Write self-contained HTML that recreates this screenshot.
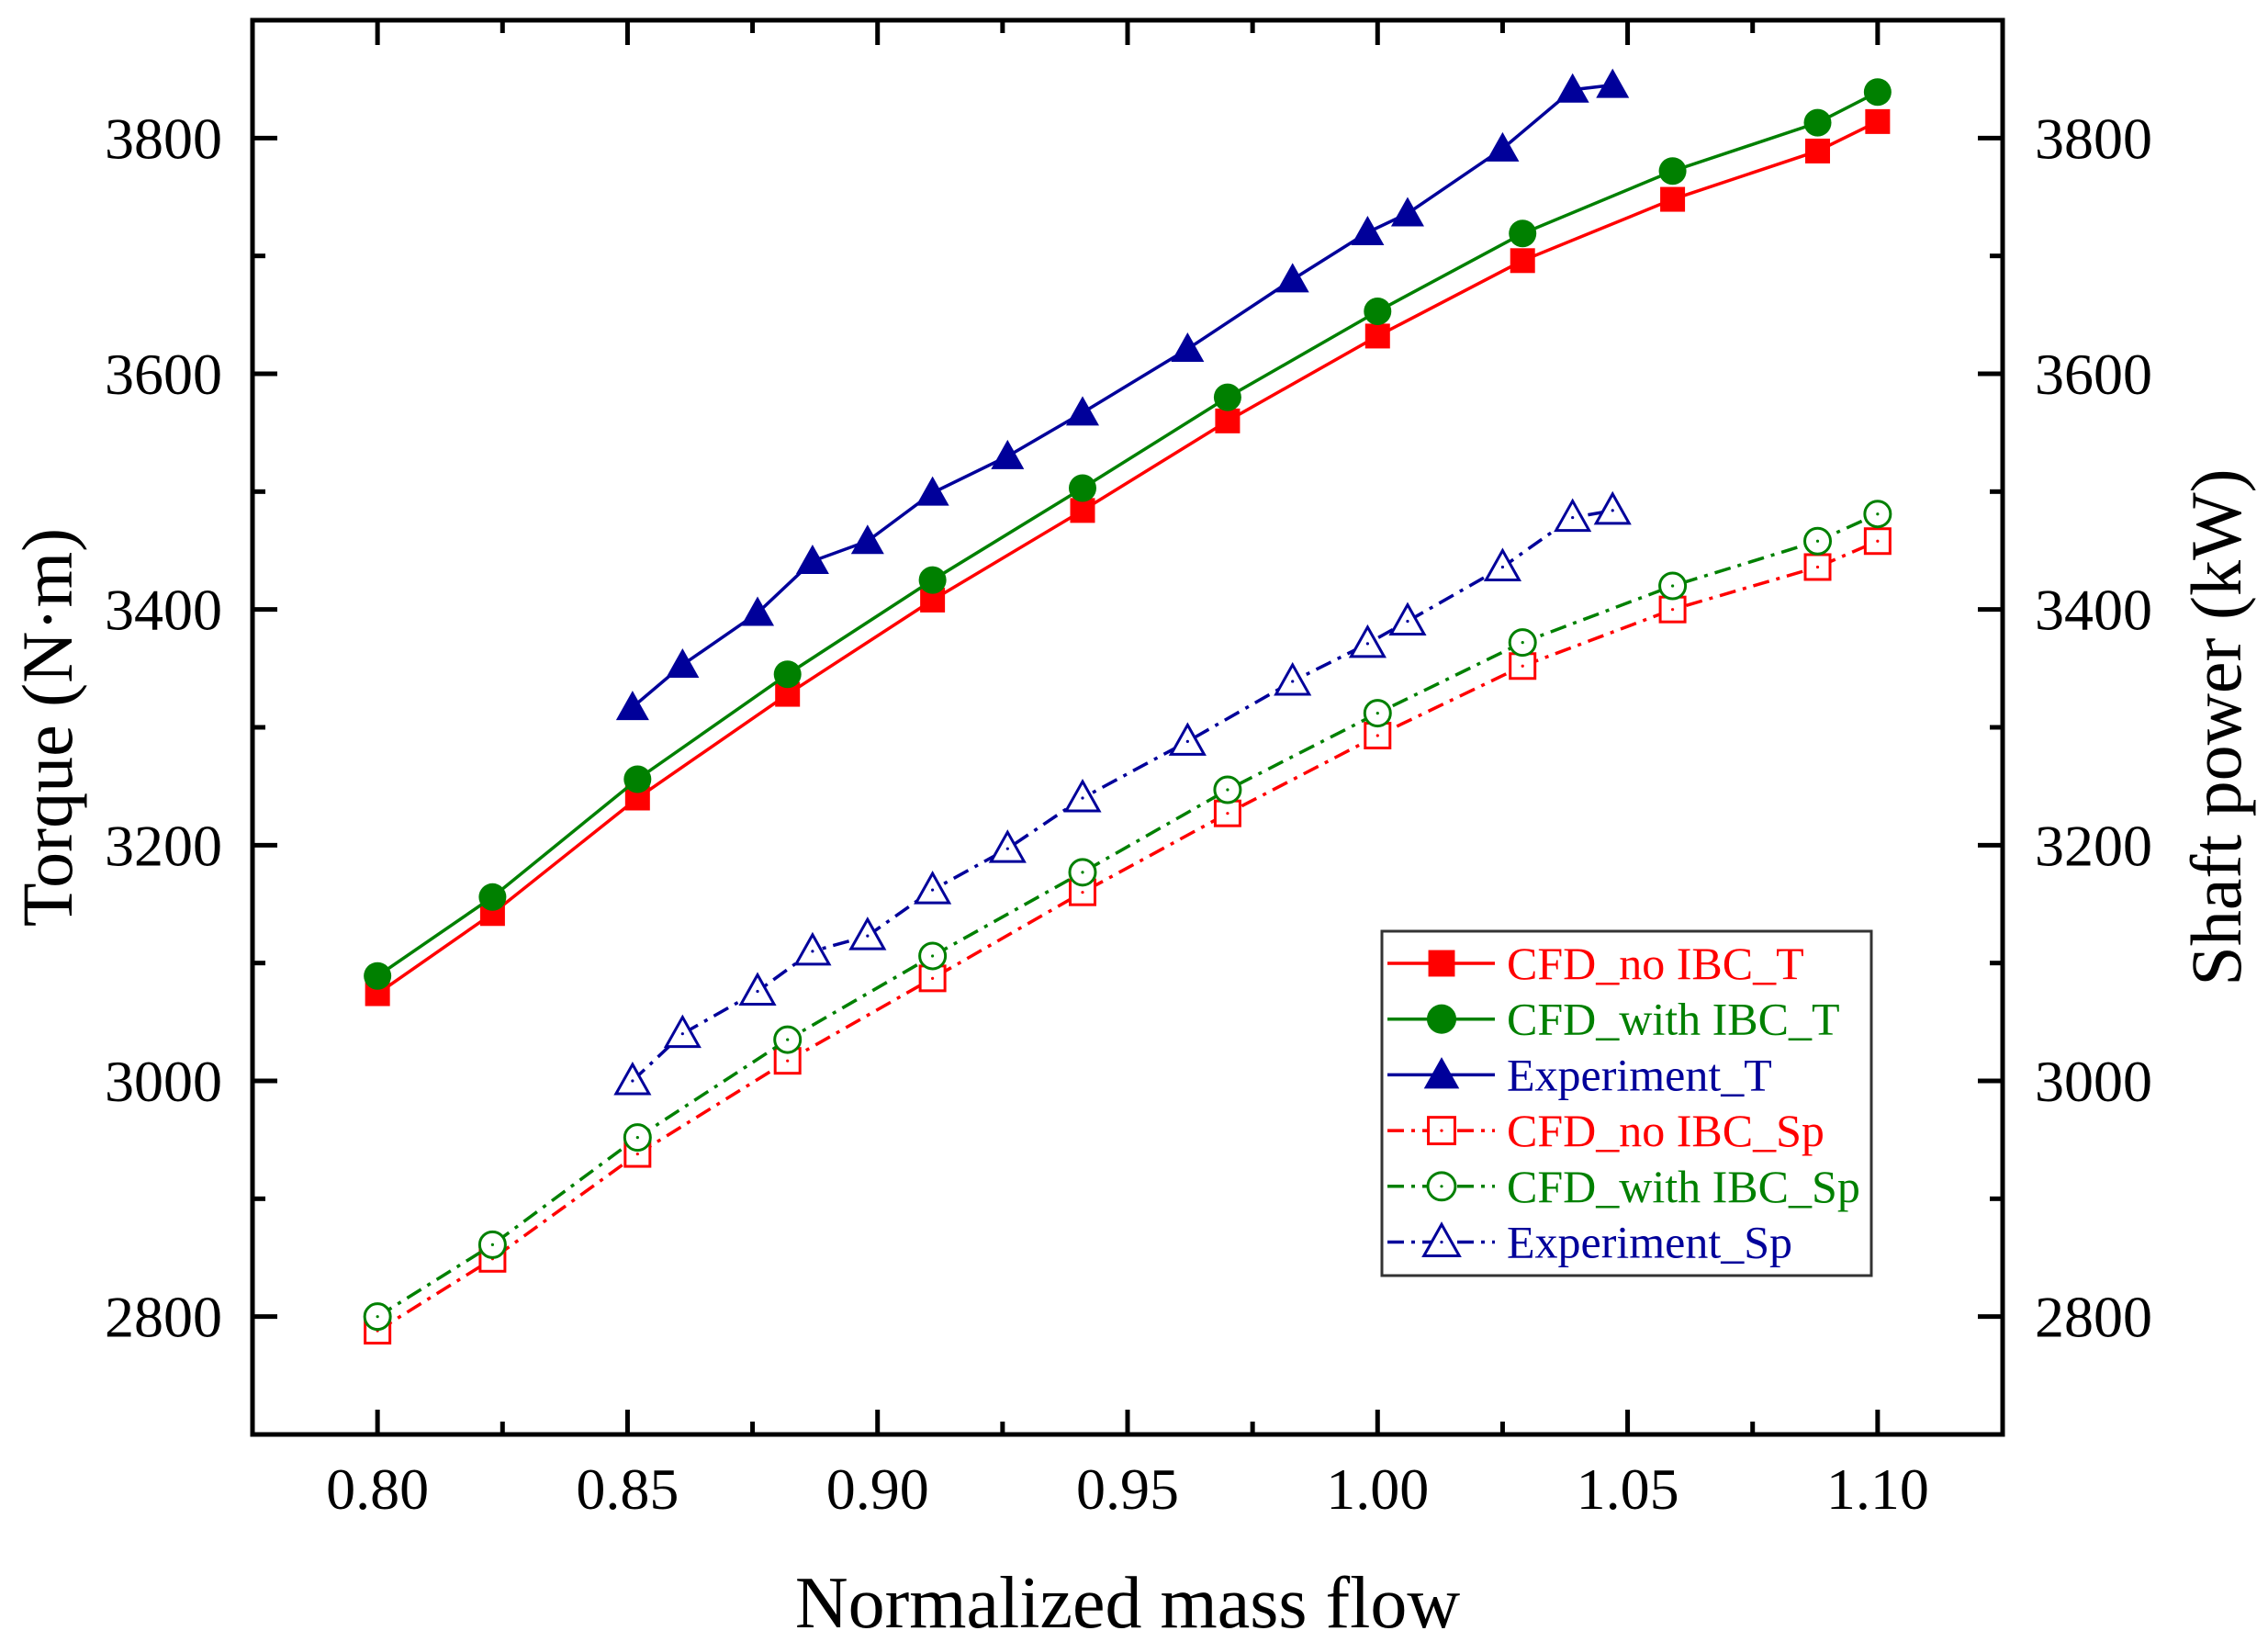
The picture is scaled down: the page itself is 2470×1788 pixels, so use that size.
<!DOCTYPE html>
<html><head><meta charset="utf-8"><style>
html,body{margin:0;padding:0;background:#fff;}
svg{display:block;font-family:"Liberation Serif",serif;}
</style></head><body>
<svg id="chart" width="2470" height="1788" viewBox="0 0 2470 1788" xmlns="http://www.w3.org/2000/svg"></svg>
<script>
const xCfd=[0.80,0.823,0.852,0.882,0.911,0.941,0.970,1.00,1.029,1.059,1.088,1.10];
const xExp=[0.851,0.861,0.876,0.887,0.898,0.911,0.926,0.941,0.962,0.983,0.998,1.006,1.025,1.039,1.047];
const noIbcT=[3074,3142,3240,3328,3408,3484,3560,3632,3696,3748,3789,3814];
const withIbcT=[3089,3156,3256,3345,3425,3503,3580,3653,3719,3772,3813,3839];
const expT=[3317,3353,3397,3441,3458,3499,3530,3567,3621,3680,3720,3736,3791,3841,3845];
const noIbcSp=[2788,2849,2938,3017,3087,3160,3227,3293,3352,3400,3436,3458];
const withIbcSp=[2800,2861,2952,3035,3106,3177,3247,3312,3372,3420,3458,3481];
const expSp=[3000,3040,3076,3110,3123,3162,3197,3240,3288,3339,3371,3390,3436,3478,3484];
const xTicks=["0.80","0.85","0.90","0.95","1.00","1.05","1.10"];
const yTicks=["2800","3000","3200","3400","3600","3800"];

const L=275,R=2181,T=22,B=1562,X0=0.775,X1=1.125,Y0=2700,Y1=3900;
const sx=v=>L+(v-X0)/(X1-X0)*(R-L);
const sy=v=>B-(v-Y0)/(Y1-Y0)*(B-T);
const svg=document.getElementById('chart');
const NS="http://www.w3.org/2000/svg";
function el(tag,attrs,parent){const e=document.createElementNS(NS,tag);for(const k in attrs)e.setAttribute(k,attrs[k]);(parent||svg).appendChild(e);return e;}

const tickG=el('g',{stroke:'#000','stroke-width':5});


for(let i=0;i<=14;i++){
  const v=0.775+i*0.025;
  const x=sx(v); const major=(i%2===1);
  const len=major?27:14;
  el('line',{x1:x,y1:B,x2:x,y2:B-len},tickG);
  el('line',{x1:x,y1:T,x2:x,y2:T+len},tickG);
}
for(let v=2700;v<=3900;v+=100){
  const y=sy(v); const major=v%200===0; const len=major?27:14;
  el('line',{x1:L,y1:y,x2:L+len,y2:y},tickG);
  el('line',{x1:R,y1:y,x2:R-len,y2:y},tickG);
}
const frame=el('rect',{x:L,y:T,width:R-L,height:B-T,fill:'none',stroke:'#000','stroke-width':5});



xTicks.forEach(t=>{
  const tx=el('text',{x:sx(+t),y:1643,'font-size':64,'text-anchor':'middle'});tx.textContent=t;
  
  
});
yTicks.forEach(t=>{
  const a=el('text',{x:242,y:sy(+t)+22,'font-size':64,'text-anchor':'end'});a.textContent=t;
  
  
  const b=el('text',{x:2216,y:sy(+t)+22,'font-size':64,'text-anchor':'start'});b.textContent=t;
  
  
});
const xt=el('text',{x:1228,y:1772,'font-size':80,'text-anchor':'middle'});xt.textContent='Normalized mass flow';


const yl=el('text',{x:0,y:0,'font-size':78,'text-anchor':'middle',transform:'translate(78,792) rotate(-90)'});yl.textContent='Torque (N·m)';


const yr=el('text',{x:0,y:0,'font-size':78,'text-anchor':'middle',transform:'translate(2440,792) rotate(-90)'});yr.textContent='Shaft power (kW)';



function marker(g,shape,x,y,color,filled,k){
  k=k||1;
  const f=filled?color:'#fff';
  if(shape==='sq') el('rect',{x:x-13.5*k,y:y-13.5*k,width:27*k,height:27*k,fill:f,stroke:color,'stroke-width':filled?0:3},g);
  else if(shape==='ci') el('circle',{cx:x,cy:y,r:(filled?15:14)*k,fill:f,stroke:color,'stroke-width':filled?0:3},g);
  else el('polygon',{points:`${x},${y-18*k} ${x+18*k},${y+14*k} ${x-18*k},${y+14*k}`,fill:f,stroke:color,'stroke-width':filled?0:3},g);
  if(!filled) el('circle',{cx:x,cy:y,r:1.6,fill:color},g);
}
const dash='18 8 4 8';
const series=[
 {name:'series-cfd-no-ibc-t',xs:xCfd,ys:noIbcT,c:'#ff0000',s:'sq',f:true,d:null,label:'CFD_no IBC_T'},
 {name:'series-cfd-with-ibc-t',xs:xCfd,ys:withIbcT,c:'#008000',s:'ci',f:true,d:null,label:'CFD_with IBC_T'},
 {name:'series-experiment-t',xs:xExp,ys:expT,c:'#00009a',s:'tr',f:true,d:null,label:'Experiment_T'},
 {name:'series-cfd-no-ibc-sp',xs:xCfd,ys:noIbcSp,c:'#ff0000',s:'sq',f:false,d:dash,label:'CFD_no IBC_Sp'},
 {name:'series-cfd-with-ibc-sp',xs:xCfd,ys:withIbcSp,c:'#008000',s:'ci',f:false,d:dash,label:'CFD_with IBC_Sp'},
 {name:'series-experiment-sp',xs:xExp,ys:expSp,c:'#00009a',s:'tr',f:false,d:dash,label:'Experiment_Sp'}
];
series.forEach(sr=>{
  const g=el('g',{});
  
  
  const pts=sr.xs.map((x,i)=>sx(x)+','+sy(sr.ys[i])).join(' ');
  const a={points:pts,fill:'none',stroke:sr.c,'stroke-width':3.5};
  if(sr.d)a['stroke-dasharray']=sr.d;
  el('polyline',a,g);
  sr.xs.forEach((x,i)=>marker(g,sr.s,sx(x),sy(sr.ys[i]),sr.c,sr.f));
});

const lg=el('g',{});


el('rect',{x:1505,y:1014,width:533,height:375,fill:'#fff',stroke:'#333','stroke-width':3},lg);
series.forEach((sr,i)=>{
  const y=1049+i*60.7;
  const eg=el('g',{},lg);
  
  
  const a={x1:1511,y1:y,x2:1628,y2:y,stroke:sr.c,'stroke-width':3.5};
  if(sr.d)a['stroke-dasharray']=sr.d;
  el('line',a,eg);
  marker(eg,sr.s,1570,y,sr.c,sr.f,1.07);
  const t=el('text',{x:1641,y:y+17,'font-size':50,fill:sr.c},eg);t.textContent=sr.label;
});
</script>
</body></html>
